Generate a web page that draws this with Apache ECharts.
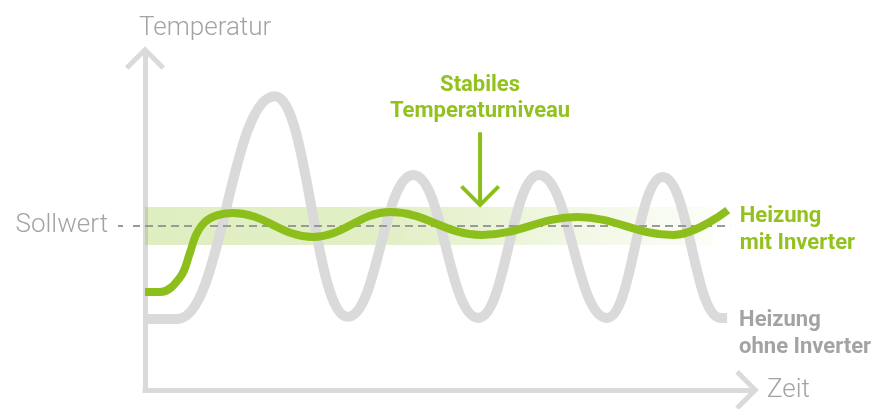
<!DOCTYPE html>
<html>
<head>
<meta charset="utf-8">
<script src="https://cdn.jsdelivr.net/npm/echarts@6/dist/echarts.min.js"></script>
<style>
  html, body { margin: 0; padding: 0; background: #ffffff; }
  #chart { width: 877px; height: 409px; }
</style>
</head>
<body>
<div id="chart"></div>
<script>
// Heizung ohne Inverter: starke Schwingung um den Sollwert (Extremwerte)
const ohneInverterZeit = [0, 5.4, 21.4, 33.4, 44.2, 54.9, 64.9, 76.1, 85.3, 94.8, 95.9];
const ohneInverterTemp = [21.1, 21.1, 87.2, 21.7, 63.8, 21.4, 63.8, 21.4, 63.2, 21.4, 21.4];

// Heizung mit Inverter: schwache Schwingung um den Sollwert
const mitInverterZeit = [0, 2.5, 5.8, 7.4, 8.4, 9.9, 12.0, 14.5, 27.7, 40.4, 55.5, 71.2, 87.0, 96.0];
const mitInverterTemp = [29.1, 29.1, 33.5, 40.7, 46.0, 49.9, 51.9, 52.5, 45.4, 52.8, 46.0, 51.3, 46.0, 53.4];

// Sollwert und Toleranzband
const sollwert = 48.7;
const sollwertLinieZeit = [0, 96.4];
const bandTemp = [43.0, 54.3];
const bandZeit = [0, 93.6];

// Markierung "Stabiles Temperaturniveau"
const markierungPunkt = [55.2, 65.3];

const GREEN_LINE = '#8dbf1c';
const GREEN_TEXT = '#93c21f';
const GRAY_LINE = '#d9dad9';
const GRAY_TEXT = '#a3a3a3';
const FONT = 'Roboto';

const pairs = (xs, ys) => xs.map((x, i) => [x, ys[i]]);

// open chevron pointing up, used for the axis ends
const chevron = 'path://M20,0L40,20L36.5,23.5L20,7.07L3.5,23.5L0,20Z';
// downward arrow with shaft
const downArrow = 'path://M18,0L22,0L22,68L37.2,52.8L40,55.6L20,75.6L0,55.6L2.8,52.8L18,68Z';

const chart = echarts.init(document.getElementById('chart'), null, { renderer: 'canvas' });

chart.setOption({
  animation: false,
  backgroundColor: '#ffffff',
  grid: { left: 145, right: 125, top: 53, bottom: 19 },
  xAxis: {
    type: 'value',
    min: 0,
    max: 100,
    name: 'Zeit',
    nameLocation: 'end',
    nameGap: 15,
    nameTextStyle: { fontFamily: FONT, fontSize: 26, fontWeight: 300, color: GRAY_TEXT, padding: [0, 0, 12, 0] },
    axisLine: {
      show: true,
      symbol: ['none', chevron],
      symbolSize: [40, 23.5],
      symbolOffset: [0, -5],
      lineStyle: { color: GRAY_LINE, width: 5, cap: 'square' }
    },
    axisTick: { show: false },
    axisLabel: { show: false },
    splitLine: { show: false }
  },
  yAxis: {
    type: 'value',
    min: 0,
    max: 100,
    name: 'Temperatur',
    nameLocation: 'end',
    nameGap: 12,
    nameTextStyle: { fontFamily: FONT, fontSize: 26, fontWeight: 300, color: GRAY_TEXT, align: 'left', padding: [0, 0, 0, -6] },
    axisLine: {
      show: true,
      onZero: false,
      symbol: ['none', chevron],
      symbolSize: [40, 23.5],
      symbolOffset: [0, -5],
      lineStyle: { color: GRAY_LINE, width: 5, cap: 'square' }
    },
    axisTick: {
      show: true,
      customValues: [sollwert],
      length: 27,
      lineStyle: { color: '#999999', width: 2, type: [7, 10], dashOffset: 12 }
    },
    axisLabel: {
      show: true,
      customValues: [sollwert],
      margin: 37,
      formatter: () => 'Sollwert',
      fontFamily: FONT,
      fontSize: 26,
      fontWeight: 300,
      color: GRAY_TEXT,
      padding: [0, 0, 4, 0]
    },
    splitLine: { show: false }
  },
  series: [
    {
      name: 'Heizung ohne Inverter',
      type: 'line',
      z: 1,
      smooth: 0.45,
      smoothMonotone: 'x',
      showSymbol: false,
      data: pairs(ohneInverterZeit, ohneInverterTemp),
      lineStyle: { color: GRAY_LINE, width: 10 },
      endLabel: {
        show: true,
        formatter: 'Heizung\nohne Inverter',
        distance: 12,
        offset: [0, 16],
        align: 'left',
        fontFamily: FONT,
        fontSize: 22,
        fontWeight: 'bold',
        lineHeight: 27,
        color: GRAY_TEXT
      }
    },
    {
      name: 'Sollwert',
      type: 'line',
      z: 2,
      showSymbol: false,
      data: pairs(sollwertLinieZeit, [sollwert, sollwert]),
      lineStyle: { color: '#999999', width: 2, type: [8, 5] },
      markArea: {
        silent: true,
        itemStyle: {
          color: new echarts.graphic.LinearGradient(0, 0, 1, 0, [
            { offset: 0, color: 'rgba(141,194,31,0.28)' },
            { offset: 0.45, color: 'rgba(141,194,31,0.25)' },
            { offset: 0.8, color: 'rgba(141,194,31,0.10)' },
            { offset: 1, color: 'rgba(141,194,31,0.03)' }
          ])
        },
        data: [[{ coord: [bandZeit[0], bandTemp[1]] }, { coord: [bandZeit[1], bandTemp[0]] }]]
      }
    },
    {
      name: 'Heizung mit Inverter',
      type: 'line',
      z: 3,
      smooth: 0.4,
      showSymbol: false,
      data: pairs(mitInverterZeit, mitInverterTemp),
      lineStyle: { color: GREEN_LINE, width: 8 },
      endLabel: {
        show: true,
        formatter: 'Heizung\nmit Inverter',
        distance: 12,
        offset: [0, 20],
        align: 'left',
        fontFamily: FONT,
        fontSize: 22,
        fontWeight: 'bold',
        lineHeight: 27,
        color: GREEN_TEXT
      },
      markPoint: {
        silent: true,
        symbol: downArrow,
        symbolSize: [40, 75.6],
        itemStyle: { color: GREEN_LINE },
        label: {
          show: true,
          position: 'top',
          distance: 8,
          formatter: 'Stabiles\nTemperaturniveau',
          fontFamily: FONT,
          fontSize: 22,
          fontWeight: 'bold',
          lineHeight: 26,
          color: GREEN_TEXT,
          align: 'center'
        },
        data: [{ coord: markierungPunkt }]
      }
    }
  ]
});
</script>
</body>
</html>
